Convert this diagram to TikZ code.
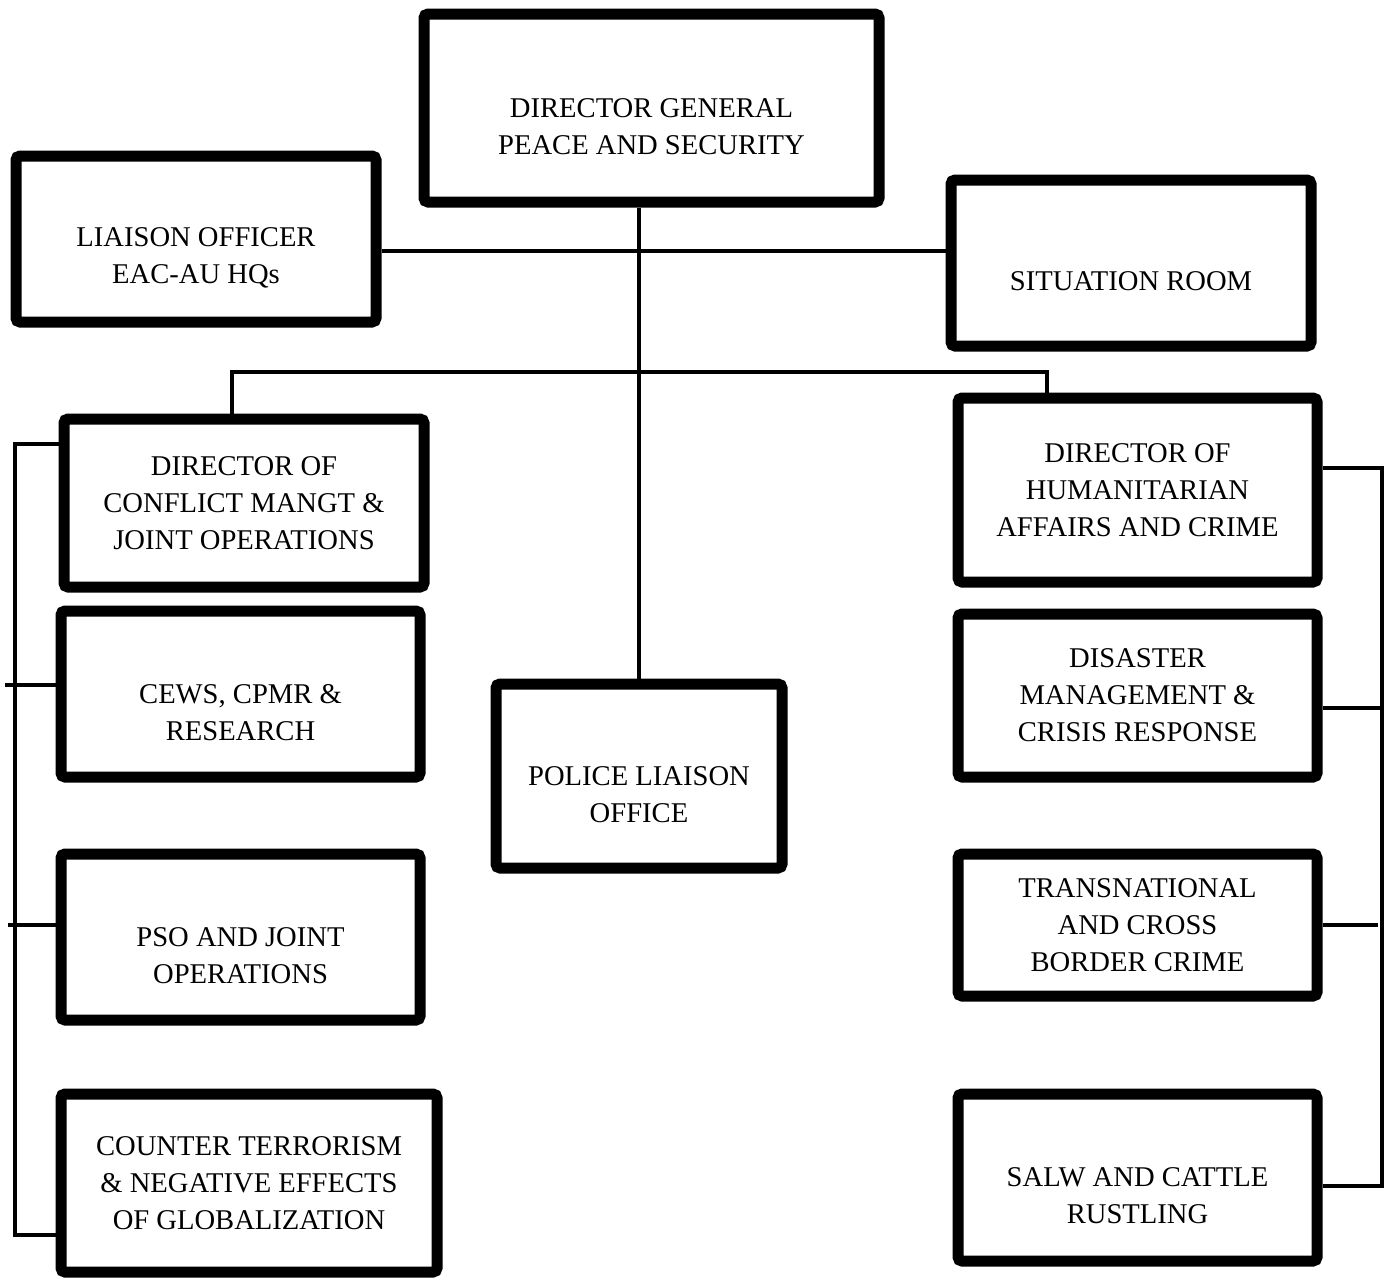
\documentclass[tikz,border=0pt]{standalone}
\usepackage{fontspec}
\setmainfont{Liberation Serif}
\usetikzlibrary{positioning}

\begin{document}
\begin{tikzpicture}[x=0.5pt, y=-0.5pt,
		box/.style={draw, line width=5.5pt, rounded corners=2pt, align=center, inner sep=0pt, font=\fontsize{14.3}{18.5}\selectfont},
		link/.style={draw, line width=2.3pt}]
			\useasboundingbox (0,0) rectangle (1385,1280);
			\node[box, minimum width=227.5pt, minimum height=94pt] (dg) at (651.5,108) {\vphantom{A}\\DIRECTOR GENERAL\\PEACE AND SECURITY};
			\node[box, minimum width=180pt, minimum height=83pt] (liaison) at (196,239) {\vphantom{A}\\LIAISON OFFICER\\EAC-AU HQs};
			\node[box, minimum width=180pt, minimum height=83pt] (sitroom) at (1131,263) {\vphantom{A}\\SITUATION ROOM};
			\node[box, minimum width=180pt, minimum height=84pt] (conflict) at (244,503) {DIRECTOR OF\\CONFLICT MANGT \&\\JOINT OPERATIONS};
			\node[box, minimum width=179.5pt, minimum height=83pt, below=6.5pt of conflict, xshift=-1.75pt] (cews) {\vphantom{A}\\CEWS, CPMR \&\\RESEARCH};
			\node[box, minimum width=179.5pt, minimum height=83pt, below=33pt of cews] (pso) {\vphantom{A}\\PSO AND JOINT\\OPERATIONS};
			\node[box, minimum width=188pt, minimum height=89pt, below=31.5pt of pso.south west, anchor=north west] (counter) {COUNTER TERRORISM\\\& NEGATIVE EFFECTS\\OF GLOBALIZATION};
			\node[box, minimum width=143pt, minimum height=92pt] (police) at (639,776) {\vphantom{A}\\POLICE LIAISON\\OFFICE};
			\node[box, minimum width=179.5pt, minimum height=92pt] (humanit) at (1137.5,490) {DIRECTOR OF\\HUMANITARIAN\\AFFAIRS AND CRIME};
			\node[box, minimum width=179.5pt, minimum height=81.5pt, below=10.5pt of humanit] (disaster) {DISASTER\\MANAGEMENT \&\\CRISIS RESPONSE};
			\node[box, minimum width=179.5pt, minimum height=71pt, below=33pt of disaster] (transnat) {TRANSNATIONAL\\AND CROSS\\BORDER CRIME};
			\node[box, minimum width=179.5pt, minimum height=83.5pt, below=43.5pt of transnat] (salw) {\vphantom{A}\\SALW AND CATTLE\\RUSTLING};
			\coordinate (hbar) at (640,251);
			\coordinate (lfork) at (232,372);
			\coordinate (rfork) at (1047,372);
			\coordinate (ltop) at (15,444);
			\coordinate (lbot) at (15,1235);
			\coordinate (ltick1) at (5,685);
			\coordinate (ltick2) at (8,925);
			\coordinate (rtop) at (1382,468);
			\coordinate (rbot) at (1382,1186);
			\coordinate (rtick1) at (1382,708);
			\coordinate (rtick2) at (1378,925);
			\path[link] (dg.south -| police.north) -- (police.north);
			\path[link] (liaison.east |- hbar) -- (sitroom.west |- hbar);
			\path[link] (conflict.north -| lfork) -- (lfork) -- (rfork) -- (humanit.north -| rfork);
			\path[link] (conflict.west |- ltop) -- (ltop) -- (lbot) -- (counter.west |- lbot);
			\path[link] (ltick1) -- (cews.west |- ltick1);
			\path[link] (ltick2) -- (pso.west |- ltick2);
			\path[link] (humanit.east |- rtop) -- (rtop) -- (rbot) -- (salw.east |- rbot);
			\path[link] (disaster.east |- rtick1) -- (rtick1);
			\path[link] (transnat.east |- rtick2) -- (rtick2);
		\end{tikzpicture}
\end{document}
